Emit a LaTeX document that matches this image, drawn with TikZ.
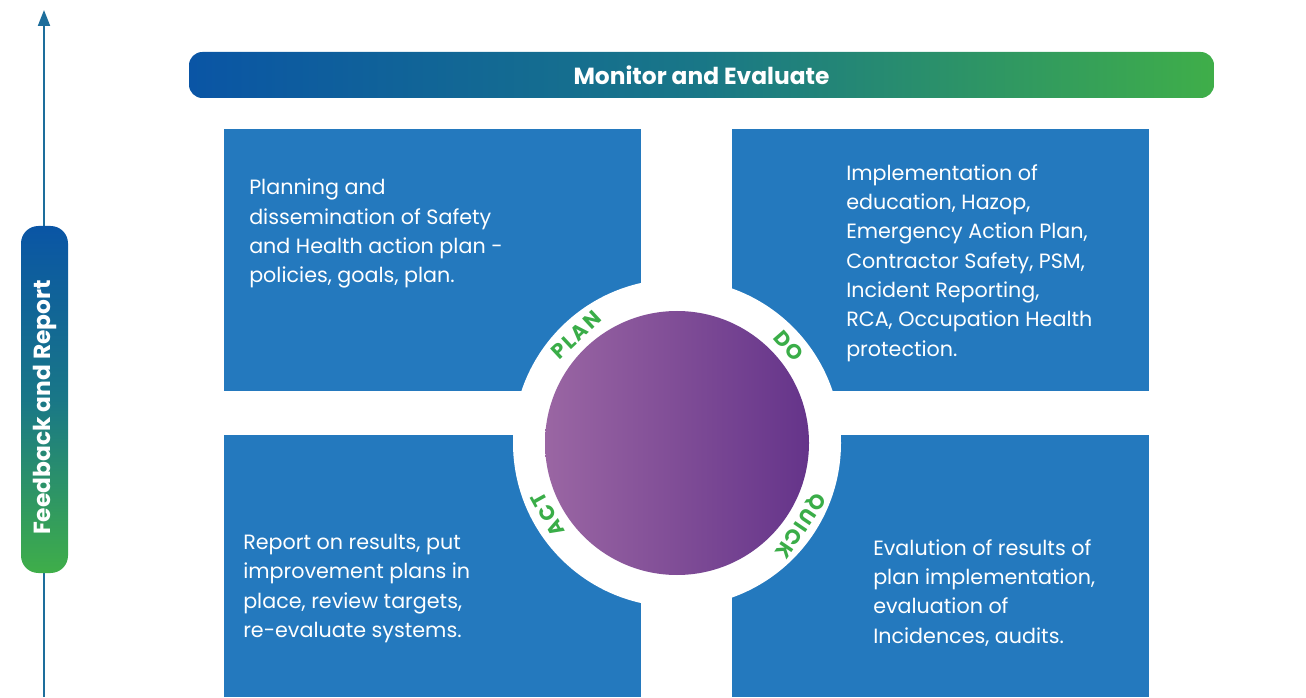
\documentclass[tikz,border=0pt]{standalone}
\usepackage{fontspec}
\setmainfont{Poppins}
\usetikzlibrary{arrows.meta}
\definecolor{boxblue}{HTML}{2479BE}
\definecolor{barblue}{HTML}{0A55A5}
\definecolor{barteal}{HTML}{197787}
\definecolor{bargreen}{HTML}{3FAE49}
\definecolor{arrowblue}{HTML}{1D6E9C}
\definecolor{cyclegreen}{HTML}{3AAD48}
\definecolor{purplelight}{HTML}{9A66A3}
\definecolor{purplemid}{HTML}{6E3D8E}
\definecolor{purpledark}{HTML}{65348A}

\begin{document}
\begin{tikzpicture}[x=0.75pt,y=0.75pt,inner sep=0pt]
\tikzstyle{quad}=[fill=boxblue, minimum width=312.75pt, minimum height=196.5pt]
\tikzstyle{quadtext}=[text=white, align=left, anchor=north west, font=\fontsize{15.5}{22}\selectfont]
\tikzstyle{steplabel}=[text=cyclegreen, font=\fontsize{15.5}{15.5}\selectfont\bfseries\addfontfeature{LetterSpace=8}]
\tikzstyle{bartext}=[text=white, font=\fontsize{17.5}{17.5}\selectfont\bfseries]
\useasboundingbox (0,0) rectangle (1306,697);

% feedback arrow and bar
\coordinate (fbbottom) at (44,0);
\coordinate (fbtop) at (44,687);
\draw[line width=1.5pt, color=arrowblue, -{Triangle[length=12pt,width=9pt]}] (fbbottom) -- (fbtop);
\node[rounded corners=13pt, top color=barblue, bottom color=bargreen, middle color=barteal,
  minimum width=35.25pt, minimum height=260.25pt] (feedback) at (44.5,297.5) {};
\node[bartext, rotate=90] (feedbacktext) at ([yshift=-6pt]feedback.center) {Feedback and Report};

% monitor bar
\node[rounded corners=10pt, left color=barblue, right color=bargreen, middle color=barteal,
  minimum width=768.75pt, minimum height=34.5pt] (monitor) at (701.5,622) {};
\node[bartext] (monitortext) at (monitor.center) {Monitor and Evaluate};

% four boxes
\node[quad, anchor=south west] (plan) at (224,306) {};
\node[quad, anchor=south west] (do) at (732,306) {};
\node[quad, anchor=south west] (act) at (224,0) {};
\node[quad, anchor=south west] (check) at (732,0) {};

\node[quadtext] (plantext) at (249,518) {Planning and\\dissemination of Safety\\and Health action plan -\\policies, goals, plan.};
\node[quadtext] (dotext) at (846,533) {Implementation of\\education, Hazop,\\Emergency Action Plan,\\Contractor Safety, PSM,\\Incident Reporting,\\RCA, Occupation Health\\protection.};
\node[quadtext] (acttext) at (243,163) {Report on results, put\\improvement plans in\\place, review targets,\\re-evaluate systems.};
\node[quadtext] (checktext) at (873,158) {Evalution of results of\\plan implementation,\\evaluation of\\Incidences, audits.};

% cycle
\node[circle, fill=white, minimum size=246pt] (ring) at (677,254) {};
\node[circle, left color=purplelight, middle color=purplemid, right color=purpledark, minimum size=198pt] (core) at (ring.center) {};
\node[steplabel, rotate=43] (planlabel) at ([shift={(133:148)}]ring.center) {PLAN};
\node[steplabel, rotate=-49] (dolabel) at ([shift={(41:148)}]ring.center) {DO};
\node[steplabel, rotate=-124] (quicklabel) at ([shift={(-34:148)}]ring.center) {QUICK};
\node[steplabel, rotate=119] (actlabel) at ([shift={(209:148)}]ring.center) {ACT};
\end{tikzpicture}
\end{document}
